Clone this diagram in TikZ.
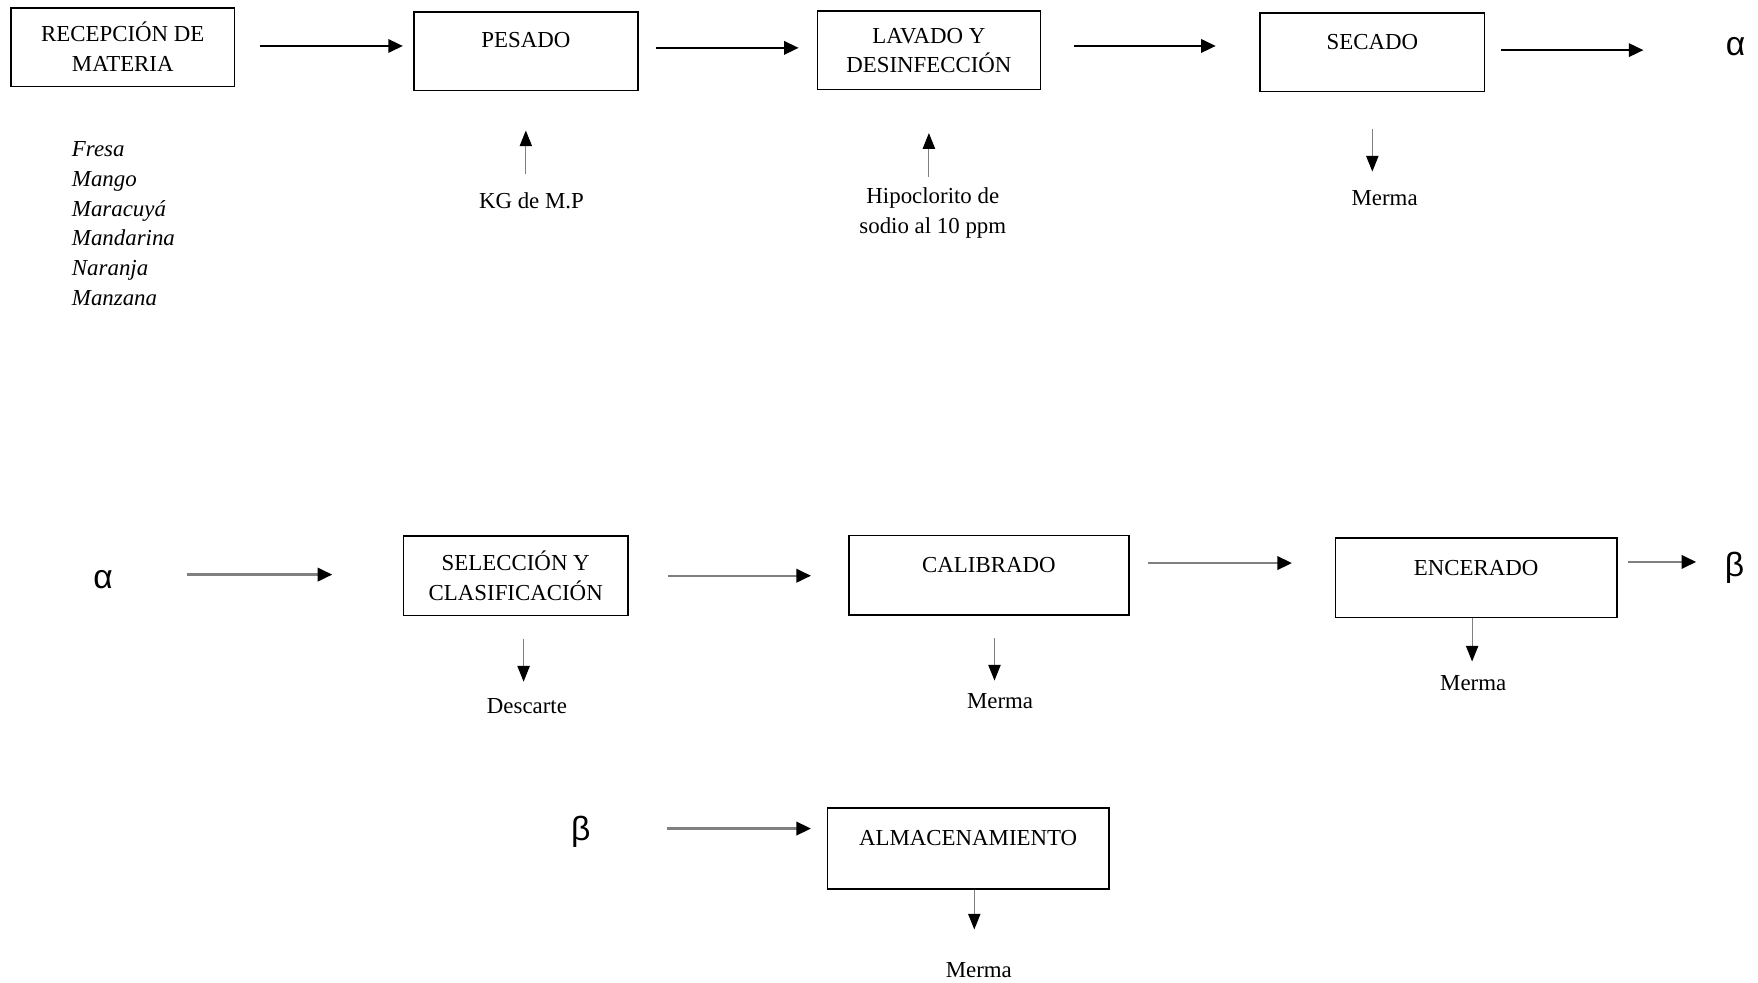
\documentclass[tikz,border=0pt]{standalone}
\usepackage{fontspec}
\setmainfont{Liberation Serif}
\newfontfamily\symfont{Liberation Sans}
\usetikzlibrary{arrows.meta}
\begin{document}
\begin{tikzpicture}[x=1pt,y=-1pt,
  every node/.style={font=\fontsize{20.4}{26.6}\selectfont},
  box/.style={draw=black, line width=1.4pt, inner xsep=0pt, align=center},
  tbox/.style 2 args={box, inner ysep=0pt, text height=#1pt, text depth=#2pt},
  sym/.style={font=\symfont\fontsize{30}{30}\selectfont, inner sep=0pt, minimum width=20pt},
  harr/.style={draw=black, line width=1.8pt, -{Triangle[length=13pt,width=12pt]}},
  garr/.style={draw=black!50, line width=2pt, -{Triangle[length=13pt,width=12pt,black]}},
  varr/.style={draw=black!50, line width=1pt, -{Triangle[length=14pt,width=11pt,black]}}
]
\useasboundingbox (0,0) rectangle (1568,876);

% Row 1
\node[box, minimum width=199pt, minimum height=70pt] (rec) at (109.5,42) {RECEPCIÓN DE\\MATERIA};
\node[tbox={31.8}{38.2}, minimum width=200pt, anchor=north] (pes) at (469,10) {PESADO};
\node[box, minimum width=199pt, minimum height=70pt] (lav) at (828.5,45) {LAVADO Y\\DESINFECCIÓN};
\node[tbox={32.8}{37.2}, minimum width=200pt, anchor=north] (sec) at (1224,11) {SECADO};
\node[sym] (a1) at (1548,42) {α};

\node[anchor=north west, align=left, inner sep=0pt, font={\fontsize{20.4}{26.6}\selectfont\itshape}] (fru) at (64,126)
  {Fresa\\Mango\\Maracuyá\\Mandarina\\Naranja\\Manzana};
\node (kg) at (474,179) {KG de M.P};
\node[align=center] (hip) at (832,190) {Hipoclorito de\\sodio al 10 ppm};
\node (m1) at (1235,177) {Merma};

\draw[harr, shorten <=22pt, shorten >=9pt] ([yshift=1pt]rec.east) -- ([yshift=1pt]rec.east -| pes.west);
\draw[harr, shorten <=15pt, shorten >=16pt] ([yshift=3pt]pes.east) -- ([yshift=3pt]pes.east -| lav.west);
\draw[harr, shorten <=29pt, shorten >=39pt] ([yshift=4pt]lav.east) -- ([yshift=4pt]lav.east -| sec.west);
\draw[harr, shorten <=14pt, shorten >=72pt] ([yshift=2pt]sec.east) -- ([yshift=2pt]sec.east -| a1.west);

\draw[varr, shorten <=24pt, shorten >=35pt] (pes.south |- kg.center) -- (pes.south);
\draw[varr, shorten <=32pt, shorten >=38pt] (lav.south |- hip.center) -- (lav.south);
\draw[varr, shorten <=33pt, shorten >=24pt] (sec.south) -- (sec.south |- m1.center);

% Row 2
\node[sym] (a2) at (92,517) {α};
\node[box, minimum width=200pt, minimum height=71pt] (sel) at (460,513.5) {SELECCIÓN Y\\CLASIFICACIÓN};
\node[tbox={32.8}{38.2}, minimum width=250pt, anchor=north] (cal) at (882,477) {CALIBRADO};
\node[tbox={33.8}{37.2}, minimum width=251pt, anchor=north] (enc) at (1316.5,479) {ENCERADO};
\node[sym] (b1) at (1547,506) {β};
\node (desc) at (470,630) {Descarte};
\node (m2) at (892,625) {Merma};
\node (m3) at (1314,609) {Merma};

\draw[garr, shorten <=65pt, shorten >=63pt] ([yshift=1pt]sel.west -| a2.east) -- ([yshift=1pt]sel.west);
\draw[garr, shorten <=35pt, shorten >=33pt] (sel.east) -- (sel.east -| cal.west);
\draw[garr, shorten <=16pt, shorten >=38pt] ([yshift=11pt]cal.east) -- ([yshift=11pt]cal.east -| enc.west);
\draw[garr, shorten <=9pt, shorten >=24pt] ([yshift=14pt]enc.east) -- ([yshift=14pt]enc.east -| b1.west);

\draw[varr, shorten <=20pt, shorten >=22pt] ([xshift=-3pt]desc.center |- sel.south) -- ([xshift=-3pt]desc.center);
\draw[varr, shorten <=20pt, shorten >=18pt] ([xshift=-5pt]m2.center |- cal.south) -- ([xshift=-5pt]m2.center);
\draw[varr, shorten >=19pt] ([xshift=-1pt]m3.center |- enc.south) -- ([xshift=-1pt]m3.center);

% Row 3
\node[sym] (b2) at (518,742) {β};
\node[tbox={33.8}{38.2}, minimum width=251pt, anchor=north] (alm) at (863.5,720) {ALMACENAMIENTO};
\node (m4) at (873,865) {Merma};

\draw[garr, shorten <=67pt, shorten >=14pt] ([yshift=3pt]b2.east) -- ([yshift=3pt]b2.east -| alm.west);
\draw[varr, shorten >=36pt] ([xshift=-4pt]m4.center |- alm.south) -- ([xshift=-4pt]m4.center);
\end{tikzpicture}
\end{document}
